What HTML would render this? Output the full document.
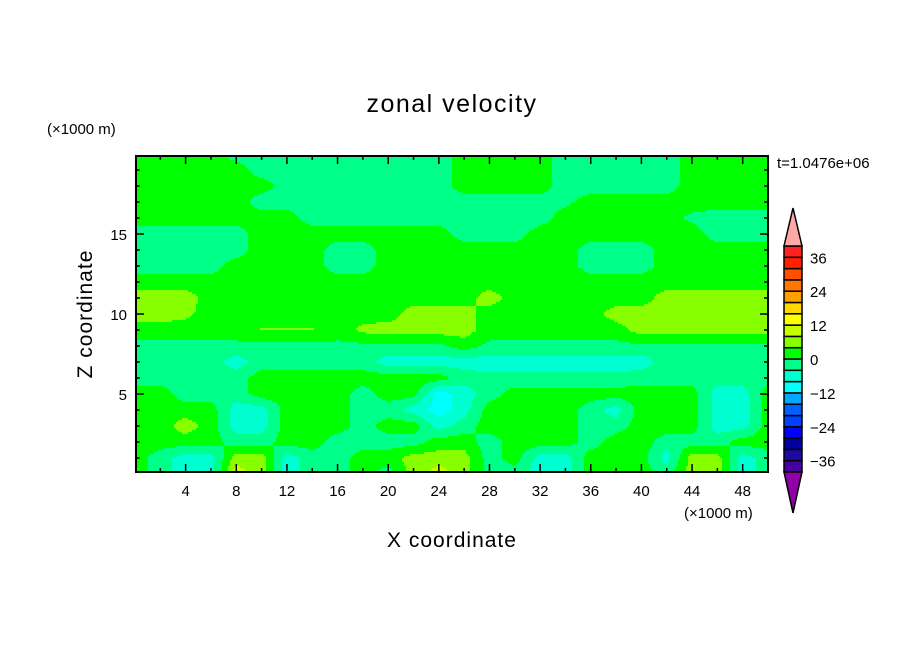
<!DOCTYPE html>
<html><head><meta charset="utf-8"><style>
html,body{margin:0;padding:0;background:#fff;}
svg text{font-family:"Liberation Sans","DejaVu Sans",sans-serif;fill:#000;}
</style></head><body>
<svg id="chart" width="904" height="654" viewBox="0 0 904 654" xmlns="http://www.w3.org/2000/svg">
<rect x="0" y="0" width="904" height="654" fill="#fff"/>
<g id="field"></g>
<g id="axes"></g>
<g id="cbar"></g>
<text x="452" y="112" font-size="25" text-anchor="middle" letter-spacing="1.5">zonal velocity</text>
<text x="47" y="134" font-size="15">(×1000 m)</text>
<text x="777" y="168" font-size="15">t=1.0476e+06</text>
<text x="452" y="547" font-size="21" text-anchor="middle" letter-spacing="1">X coordinate</text>
<text x="0" y="0" font-size="21" text-anchor="middle" letter-spacing="1" transform="translate(92,314) rotate(-90)">Z coordinate</text>
<text x="684" y="518" font-size="15">(×1000 m)</text>
</svg>
<script>
// grid nodes: x = 0,2,...,50 ; z rows listed from z=20 down to z=0
const xNodes = [0,2,4,6,8,10,12,14,16,18,20,22,24,26,28,30,32,34,36,38,40,42,44,46,48,50];
const zNodes = [20,19,18,17,16,15,14,13,12,11,10,9,8,7,6,5,4,3,2,1,0];
const z20 = [2,2,2,2,-2,-2,-2,-2,-2,-2,-2,-2,-2,2,2,2,2,-2,-2,-2,-2,-2,2,2,2,2];
const z19 = [2,2,2,2,2,-2,-2,-2,-2,-2,-2,-2,-2,2,2,2,2,-2,-2,-2,-2,-2,2,2,2,2];
const z18 = [2,2,2,2,2,2,-2,-2,-2,-2,-2,-2,-2,2,2,2,2,-2,-2,-2,-2,-2,2,2,2,2];
const z17 = [2,2,2,2,2,-2,-2,-2,-2,-2,-2,-2,-2,-2,-2,-2,-2,-1,2,2,2,2,2,2,2,2];
const z16 = [2,2,2,2,2,2,2,-2,-2,-2,-2,-2,-2,-2,-2,-2,-2,2,2,2,2,2,-1,-2,-2,-2];
const z15 = [-2,-2,-2,-2,-2,2,2,2,2,2,2,2,2,-2,-2,-2,2,2,2,2,2,2,2,-2,-2,-2];
const z14 = [-2,-2,-2,-2,-2,2,2,2,-2,-2,2,2,2,2,2,2,2,2,-2,-2,-2,2,2,2,2,2];
const z13 = [-2,-2,-2,-2,2,2,2,2,-2,-2,2,2,2,2,2,2,2,2,-2,-2,-2,2,2,2,2,2];
const z12 = [2,2,2,2,2,2,2,2,2,2,2,2,2,2,2,2,2,2,2,2,2,2,2,2,2,2];
const z11 = [6,6,6,2,2,2,2,2,2,2,2,2,2,2,6,2,2,2,2,2,2,6,6,6,6,6];
const z10 = [6,6,5,2,2,2,2,2,2,2,2,6,6,6,2,2,2,2,2,6,6,6,6,6,6,6];
const z9  = [2,2,2,2,2,4.3,4.3,4.3,2,5,6,6,6,6,2,2,2,2,2,2,6,6,6,6,6,6];
const z8  = [-1,-1,-1,-1,-1,-1,-1,-1,-1,-1,-1,-1,-1,2,-1,-1,-1,-1,-1,-1,-1,-1,-1,-1,-1,-1];
const z7  = [-2,-2,-2,-2,-6,-2,-2,-2,-2,-2,-6,-6,-6,-6,-6,-6,-6,-6,-6,-6,-6,-2,-2,-2,-2,-2];
const z6  = [-2,-2,-2,-2,-2,2,2,2,2,2,2,2,2,-2,-3,-3,-3,-3,-3,-3,-2,-2,-2,-2,-2,-2];
const z5  = [2,2,-2,-2,-2,2,2,2,2,-2,2,2,-10,-6,-2,2,2,2,2,2,2,2,2,-6,-6,2];
const z4  = [2,2,2,2,-6,-6,2,2,2,-2,-2,-6,-10,-6,2,2,2,2,-2,-6,2,2,2,-6,-6,2];
const z3  = [2,2,6,2,-6,-6,2,2,2,-2,2,2,-6,-2,2,2,2,2,-2,-2,2,2,2,-6,-6,2];
const z2  = [2,2,2,2,-2,-2,2,2,-2,-2,-2,-2,2,2,-2,2,2,2,-2,2,2,-2,-2,-2,2,2];
const z1  = [2,-2,-6,-6,6,6,-6,-2,-2,2,2,6,6,6,-2,2,-6,-6,2,2,2,-6,6,6,-6,-2];
const z0  = [2,-2,-6,-6,10,6,-6,-2,-2,2,-2,6,10,6,-2,-2,-6,-6,2,2,2,-2,6,6,-6,-2];
const gridRows = [z20,z19,z18,z17,z16,z15,z14,z13,z12,z11,z10,z9,z8,z7,z6,z5,z4,z3,z2,z1,z0];
const levels = [-40,-36,-32,-28,-24,-20,-16,-12,-8,-4,0,4,8,12,16,20,24,28,32,36,40];
const cbarTicks = [36,24,12,0,-12,-24,-36];
const xTicks = [4,8,12,16,20,24,28,32,36,40,44,48];
const yTicks = [5,10,15];

const colors = ["#4a00a0","#1c0aa0","#0000a0","#0000ff","#0040ff","#0060ff","#00a8ff","#00ffff","#00ffd0","#00ff88","#00ff00","#88ff00","#c8ff00","#ffff00","#ffd800","#ffa000","#ff7800","#ff5000","#ff2000","#ff2020"];
const NS="http://www.w3.org/2000/svg";
const PL=136, PR=768, PT=156, PB=472;
function xs(x){return 135+12.66*x;}
function zs(z){return 474-16*z;}
function xinv(p){return (p-135)/12.66;}
function zinv(p){return (474-p)/16;}
function valueAt(x,z){
  let fx=x/2, fz=(20-z);
  fx=Math.max(0,Math.min(xNodes.length-1.0001,fx));
  fz=Math.max(0,Math.min(zNodes.length-1.0001,fz));
  const i=Math.floor(fx), j=Math.floor(fz), tx=fx-i, tz=fz-j;
  const a=gridRows[j][i], b=gridRows[j][i+1], c=gridRows[j+1][i], d=gridRows[j+1][i+1];
  return (a*(1-tx)+b*tx)*(1-tz)+(c*(1-tx)+d*tx)*tz;
}
function levelIndex(v){
  for(let k=0;k<levels.length-1;k++){ if(v<levels[k+1]) return Math.max(0,k); }
  return levels.length-2;
}
const field=document.getElementById('field');
const step=2;
for(let py=PT; py<PB; py+=step){
  const z=zinv(py+step/2);
  let runStart=PL, runIdx=null;
  for(let px=PL; px<=PR; px+=step){
    let idx = px<PR ? levelIndex(valueAt(xinv(px+step/2),z)) : -99;
    if(idx!==runIdx){
      if(runIdx!==null && runIdx>=0){
        const r=document.createElementNS(NS,'rect');
        r.setAttribute('x',runStart); r.setAttribute('y',py);
        r.setAttribute('width',Math.min(px,PR)-runStart); r.setAttribute('height',Math.min(step,PB-py));
        r.setAttribute('fill',colors[runIdx]); r.setAttribute('shape-rendering','crispEdges');
        
        
        field.appendChild(r);
      }
      runStart=px; runIdx=idx;
    }
  }
}
const axes=document.getElementById('axes');
function line(x1,y1,x2,y2,w,name){
  const l=document.createElementNS(NS,'line');
  l.setAttribute('x1',x1);l.setAttribute('y1',y1);l.setAttribute('x2',x2);l.setAttribute('y2',y2);
  l.setAttribute('stroke','#000');l.setAttribute('stroke-width',w);
  
  
  axes.appendChild(l);
}
function text(x,y,s,anchor,size,name,parent){
  const t=document.createElementNS(NS,'text');
  t.setAttribute('x',x);t.setAttribute('y',y);t.setAttribute('font-size',size);t.setAttribute('text-anchor',anchor);
  t.textContent=s;
  
  
  parent.appendChild(t);
}
for(let x=2;x<50;x+=2){
  const major = xTicks.indexOf(x)>=0, len = major?8:4, X=xs(x);
  line(X,PB,X,PB-len,1.5,'x-tick'); line(X,PT,X,PT+len,1.5,'x-tick-top');
}
xTicks.forEach(v=>text(xs(v),496,String(v),'middle',15,'x-tick-label',axes));
for(let z=1;z<20;z++){
  const major = yTicks.indexOf(z)>=0, len = major?8:4, Y=zs(z);
  line(PL,Y,PL+len,Y,1.5,'y-tick'); line(PR,Y,PR-len,Y,1.5,'y-tick-right');
}
yTicks.forEach(v=>text(127,zs(v)+6,String(v),'end',15,'y-tick-label',axes));
const fr=document.createElementNS(NS,'rect');
fr.setAttribute('x',PL);fr.setAttribute('y',PT);fr.setAttribute('width',PR-PL);fr.setAttribute('height',PB-PT);
fr.setAttribute('fill','none');fr.setAttribute('stroke','#000');fr.setAttribute('stroke-width',2);


axes.appendChild(fr);

const cbar=document.getElementById('cbar');
const CX=784, CW=18, CT=246, CB=472, bh=(CB-CT)/20;
function cy(v){return CB-(v+40)/80*(CB-CT);}
for(let k=0;k<20;k++){
  const r=document.createElementNS(NS,'rect');
  r.setAttribute('x',CX);r.setAttribute('y',cy(levels[k+1]));r.setAttribute('width',CW);r.setAttribute('height',bh);
  r.setAttribute('fill',colors[k]);r.setAttribute('stroke','#000');r.setAttribute('stroke-width',1.5);
  
  
  cbar.appendChild(r);
}
const tTop=document.createElementNS(NS,'polygon');
tTop.setAttribute('points',`${CX},${CT} ${CX+CW},${CT} ${CX+CW/2},208`);
tTop.setAttribute('fill','#ffa8a8');tTop.setAttribute('stroke','#000');tTop.setAttribute('stroke-width',1.5);


cbar.appendChild(tTop);
const tBot=document.createElementNS(NS,'polygon');
tBot.setAttribute('points',`${CX},${CB} ${CX+CW},${CB} ${CX+CW/2},513`);
tBot.setAttribute('fill','#9000a8');tBot.setAttribute('stroke','#000');tBot.setAttribute('stroke-width',1.5);


cbar.appendChild(tBot);
cbarTicks.forEach(v=>text(810,cy(v)+6,(v<0?'\u2212':'')+Math.abs(v),'start',15,'colorbar-label',cbar));
</script>
</body></html>
